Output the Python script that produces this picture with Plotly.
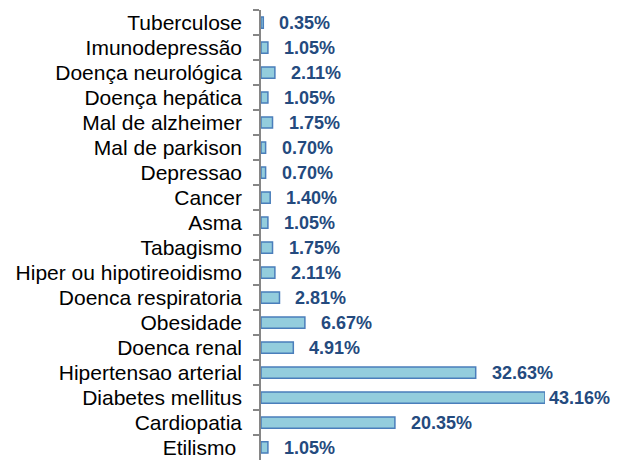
import plotly.graph_objects as go

categories = ["Tuberculose", "Imunodepressão", "Doença neurológica", "Doença hepática",
              "Mal de alzheimer", "Mal de parkison", "Depressao", "Cancer", "Asma",
              "Tabagismo", "Hiper ou hipotireoidismo", "Doenca respiratoria", "Obesidade",
              "Doenca renal", "Hipertensao arterial", "Diabetes mellitus", "Cardiopatia",
              "Etilismo "]
values = [0.35, 1.05, 2.11, 1.05, 1.75, 0.70, 0.70, 1.40, 1.05, 1.75, 2.11, 2.81,
          6.67, 4.91, 32.63, 43.16, 20.35, 1.05]
value_labels = ["0.35%", "1.05%", "2.11%", "1.05%", "1.75%", "0.70%", "0.70%", "1.40%",
                "1.05%", "1.75%", "2.11%", "2.81%", "6.67%", "4.91%", "32.63%", "43.16%",
                "20.35%", "1.05%"]

fig = go.Figure()
fig.add_trace(go.Bar(
    y=categories, x=values, orientation="h",
    marker=dict(color="#93CDDD", line=dict(color="#4A7EBB", width=1.5)),
    hoverinfo="skip",
))

vmax = max(values)
for c, v, t in zip(categories, values, value_labels):
    fig.add_annotation(
        x=v, y=c, text="<b>%s</b>" % t, showarrow=False,
        xanchor="left", yanchor="middle",
        xshift=2 if v == vmax else 14,
        font=dict(family="Liberation Sans, Arial", size=18, color="#244A7E"),
    )

fig.update_layout(
    width=623, height=461,
    margin=dict(l=261, r=78, t=10, b=1, autoexpand=False),
    plot_bgcolor="white", paper_bgcolor="white",
    bargap=0.55, showlegend=False,
    font=dict(family="Liberation Sans, Arial", size=21, color="black"),
)
fig.update_xaxes(range=[0, vmax], visible=False, showgrid=False, zeroline=False,
                 automargin=False)
fig.update_yaxes(
    autorange="reversed", type="category", automargin=False,
    showline=True, linecolor="#868686", linewidth=1.5,
    ticks="outside", ticklen=6, tickcolor="#868686", tickwidth=1.5,
    tickson="boundaries", ticklabelstandoff=13,
    tickfont=dict(family="Liberation Sans, Arial", size=21, color="black"),
    showgrid=False,
)

fig.write_html("out.html", config={"displayModeBar": False},
               post_script="document.body.style.margin='0';document.body.style.overflow='hidden';")
